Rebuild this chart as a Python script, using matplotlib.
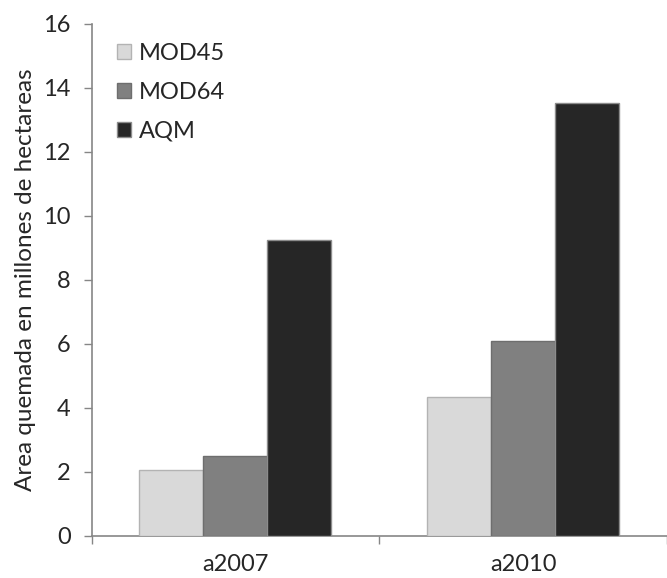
import matplotlib
matplotlib.use("Agg")
import matplotlib.pyplot as plt
import numpy as np
from matplotlib.patches import Patch

categories = ["a2007", "a2010"]
series_names = ["MOD45", "MOD64", "AQM"]
mod45 = [2.06, 4.35]
mod64 = [2.51, 6.09]
aqm = [9.25, 13.52]
yticks = [0, 2, 4, 6, 8, 10, 12, 14, 16]

values = [mod45, mod64, aqm]
colors = ["#d9d9d9", "#808080", "#262626"]
edges = ["#b3b3b3", "#6e6e6e", "#8c8c8c"]

plt.rcParams['font.family'] = ['Lato', 'DejaVu Sans']

W, H = 667, 578
fig = plt.figure(figsize=(W / 100, H / 100), dpi=100)
left, right, bottom, top = 91.5, 667, 536, 24
ax = fig.add_axes([left / W, (H - bottom) / H, (right - left) / W, (bottom - top) / H])

x = np.arange(len(categories))
bw = 0.2226
for i, (vals, c, e, name) in enumerate(zip(values, colors, edges, series_names)):
    ax.bar(x + (i - 1) * bw, vals, width=bw, color=c, edgecolor=e, linewidth=1.0, label=name, zorder=3)

ax.set_xlim(-0.5, (right - left) / 292.0 - 0.5)
ax.set_ylim(0, 16)
ax.set_yticks(yticks)
ax.set_yticklabels([str(t) for t in yticks], fontsize=17, color="#262626")
ax.set_xticks(x)
ax.set_xticklabels(categories, fontsize=17, color="#262626")
ax.set_xticks([-0.5, 0.5, 1.5], minor=True)
ax.tick_params(axis='x', which='major', length=0, pad=13)
ax.tick_params(axis='x', which='minor', length=6, color="#868686", width=1)
ax.tick_params(axis='y', which='major', length=6, color="#868686", width=1, pad=9)

for s in ["top", "right"]:
    ax.spines[s].set_visible(False)
for s in ["left", "bottom"]:
    ax.spines[s].set_color("#868686")
    ax.spines[s].set_linewidth(1.2)

ax.set_ylabel("Area quemada en millones de hectareas", fontsize=17.5, color="#262626", labelpad=5)

handles = [Patch(facecolor=c, edgecolor=e, linewidth=1.0) for c, e in zip(colors, edges)]
leg = ax.legend(handles, series_names, loc="upper left", bbox_to_anchor=(0.02, 0.99), frameon=False,
                fontsize=17, handlelength=0.6, handleheight=0.6, handletextpad=0.3,
                labelspacing=0.75, labelcolor="#262626", borderaxespad=0.2)

fig.savefig("out.png", dpi=100)
